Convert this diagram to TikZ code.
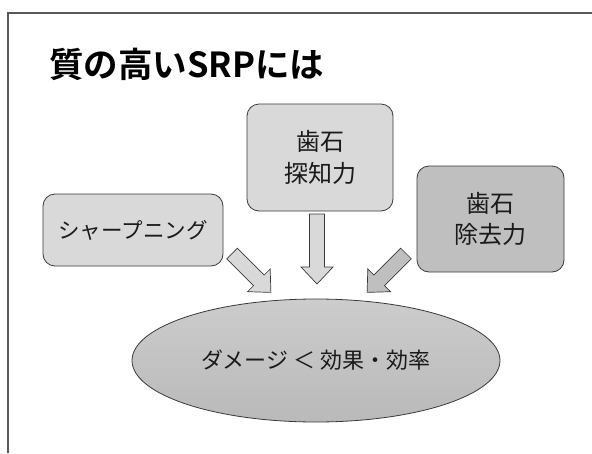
\documentclass[tikz,border=0pt]{standalone}
\usepackage{fontspec}
\setmainfont{Noto Sans CJK JP}[BoldFont={Noto Sans CJK JP Bold}]
\usetikzlibrary{shapes.geometric}
\definecolor{boxlight}{HTML}{D9D9D9}
\definecolor{boxdark}{HTML}{BFBFBF}
\definecolor{edgegray}{HTML}{3A3A3A}
\definecolor{framegray}{HTML}{595959}
\definecolor{textgray}{HTML}{1A1A1A}
\tikzset{
  box/.style={draw=edgegray, line width=0.8pt, rounded corners=12pt, align=center, text=textgray, inner sep=0pt},
  pics/blockarrow/.style={code={
    \draw[pic actions] (-7.5,0) -- (7.5,0) -- (7.5,#1-17) -- (16,#1-17) -- (0,#1)
      -- (-16,#1-17) -- (-7.5,#1-17) -- cycle;}}
}
\begin{document}
\begin{tikzpicture}[x=1pt, y=-1pt]
      \useasboundingbox (0,0) rectangle (592,453);
      \clip (0,0) rectangle (592,453);
      % slide frame
      \draw[framegray, line width=1.3pt] (8,453) |- (592,13);

      \node[anchor=west, inner sep=0pt, font=\bfseries\fontsize{34.5}{40}\selectfont] (title) at (49,64) {質の高いSRPには};

      \node[box, fill=boxlight, minimum width=180pt, minimum height=72pt, font=\fontsize{21.5}{28}\selectfont] (sharp) at (133,230) {シャープニング};
      \node[box, fill=boxlight, minimum width=146pt, minimum height=107pt, font=\fontsize{24}{32}\selectfont] (detect) at (320,157.5) {歯石\\探知力};
      \node[box, fill=boxdark, minimum width=147pt, minimum height=106pt, font=\fontsize{24}{31}\selectfont] (remove) at (490.5,219) {歯石\\除去力};

      \node[ellipse, draw=edgegray, line width=0.8pt, top color=boxlight!94!black, bottom color=boxdark!97!black,
            minimum width=368pt, minimum height=123pt, text=textgray, font=\fontsize{22}{28}\selectfont] (result) at (316,360.5) {ダメージ\ ＜ 効果・効率};

      % block arrows
      \pic[fill=boxlight, draw=edgegray, line width=0.7pt, rotate=45] at (232,253.5) {blockarrow=55};
      \pic[fill=boxlight, draw=edgegray, line width=0.7pt] at (317,214) {blockarrow=70};
      \pic[fill=boxdark, draw=edgegray, line width=0.7pt, rotate=-45] at (406,253.5) {blockarrow=55};
    \end{tikzpicture}
\end{document}
